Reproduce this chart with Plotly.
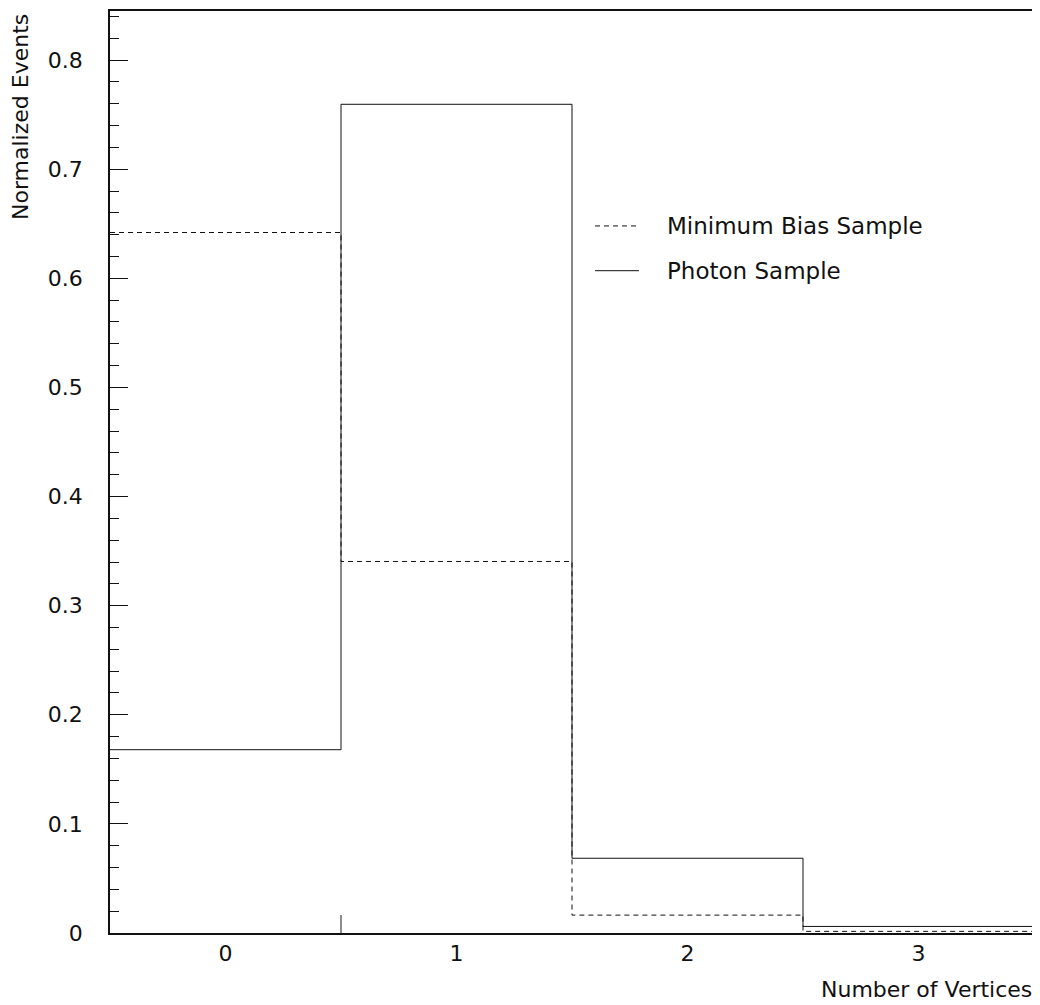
import plotly.graph_objects as go

# Data
bin_edges = [-0.5, 0.5, 1.5, 2.5, 3.5]
bin_labels = ["0", "1", "2", "3"]
min_bias = [0.642, 0.3405, 0.0164, 0.0015]
photon = [0.168, 0.7595, 0.0685, 0.006]
y_ticks = [0, 0.1, 0.2, 0.3, 0.4, 0.5, 0.6, 0.7, 0.8]
y_tick_labels = ["0", "0.1", "0.2", "0.3", "0.4", "0.5", "0.6", "0.7", "0.8"]
bin_centers = [0, 1, 2, 3]
legend_names = ["Minimum Bias Sample", "Photon Sample"]

FONT = "DejaVu Sans"
INK = "#111111"
DASH = "5px,4px"

fig = go.Figure()

fig.add_trace(go.Scatter(
    x=bin_edges, y=min_bias + [min_bias[-1]], mode="lines", line_shape="hv",
    line=dict(color=INK, width=1, dash=DASH), showlegend=False, hoverinfo="skip"))
fig.add_trace(go.Scatter(
    x=bin_edges, y=photon + [photon[-1]], mode="lines", line_shape="hv",
    line=dict(color=INK, width=1), showlegend=False, hoverinfo="skip"))
# small edge stub at first bin boundary
fig.add_trace(go.Scatter(
    x=[bin_edges[1], bin_edges[1]], y=[0, min_bias[2]], mode="lines",
    line=dict(color="#666666", width=1.5), showlegend=False, hoverinfo="skip"))

ymax = 0.845
# page body has an 8px default margin; size the figure to fit the 1040x1005 window
fig.update_layout(
    width=1032, height=997,
    margin=dict(l=102, r=6, t=1, b=72),
    paper_bgcolor="white", plot_bgcolor="white",
    font=dict(family=FONT, color=INK, size=22),
    xaxis=dict(range=[-0.5, 3.5], showgrid=False, zeroline=False,
               showline=True, linecolor=INK, linewidth=1.5, mirror=True,
               tickmode="array", tickvals=bin_centers, ticktext=bin_labels,
               ticks="", tickfont=dict(size=22, family=FONT)),
    yaxis=dict(range=[0, ymax], showgrid=False, zeroline=False,
               showline=True, linecolor=INK, linewidth=1.5, mirror=True,
               tickmode="array", tickvals=y_ticks, ticktext=y_tick_labels,
               ticks="inside", ticklen=18, tickwidth=1, tickcolor=INK,
               minor=dict(dtick=0.02, ticks="inside", ticklen=9, tickwidth=1, tickcolor=INK),
               tickfont=dict(size=22, family=FONT), ticklabelstandoff=21),
)

fig.add_annotation(text="Normalized Events", xref="paper", yref="paper",
                   x=0, y=1.0, xanchor="center", yanchor="top", textangle=-90,
                   xshift=-90, yshift=-1,
                   showarrow=False, font=dict(size=22, family=FONT, color=INK))
fig.add_annotation(text="Number of Vertices", xref="paper", yref="paper",
                   x=1.0, y=0, xanchor="right", yanchor="middle", yshift=-56,
                   showarrow=False, font=dict(size=22, family=FONT, color=INK))

# legend
leg_y = [0.648, 0.607]
leg_dash = [DASH, "solid"]
for name, dash, yy in zip(legend_names, leg_dash, leg_y):
    fig.add_shape(type="line", xref="paper", yref="y", x0=(595-110)/924, x1=(639-110)/924,
                  y0=yy, y1=yy, line=dict(color=INK, width=1, dash=dash))
    fig.add_annotation(text=name, xref="paper", yref="y", x=(665-110)/924, y=yy,
                       xanchor="left", yanchor="middle", showarrow=False,
                       font=dict(size=23, family=FONT, color=INK))

fig.write_html("out.html")
